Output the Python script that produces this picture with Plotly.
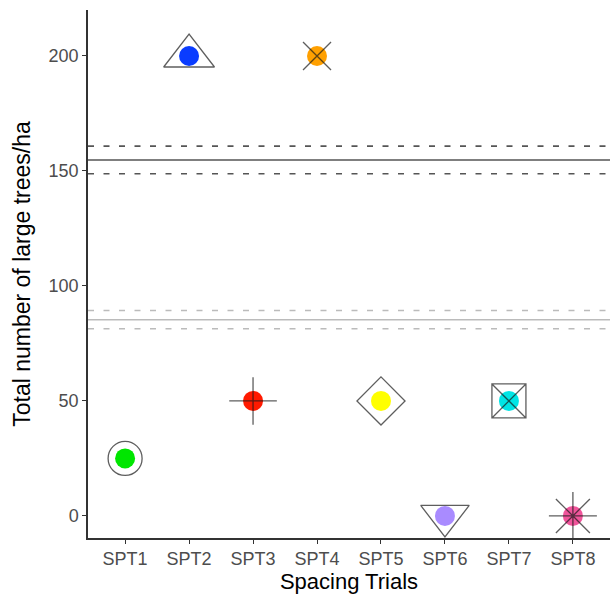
import plotly.graph_objects as go

# ---- data ----
trials = ["SPT1", "SPT2", "SPT3", "SPT4", "SPT5", "SPT6", "SPT7", "SPT8"]
large_trees = [25, 200, 50, 200, 50, 0, 50, 0]
mean_a = 154.8
ci_a = [148.8, 160.8]
mean_b = 85.3
ci_b = [81.4, 89.3]
y_ticks = [0, 50, 100, 150, 200]

# ---- styles ----
fill_colors = ["#00E600", "#0A3CFF", "#FF1A00", "#FFA000", "#FFFF00", "#A98BFF", "#00E5E5", "#F0559B"]
overlay_symbols = ["circle-open", "triangle-up-open", "cross-thin-open", "x-thin-open",
                   "diamond-open", "triangle-down-open", "square-x-open", "asterisk-open"]
overlay_sizes = [34, 44, 34, 28, 37, 42, 34, 40]

fig = go.Figure()

# reference lines
for y in ci_a:
    fig.add_hline(y=y, line=dict(color="#555555", width=1.6, dash="6px,9.5px"), layer="below")
fig.add_hline(y=mean_a, line=dict(color="#555555", width=1.6), layer="below")
for y in ci_b:
    fig.add_hline(y=y, line=dict(color="#BBBBBB", width=1.6, dash="6px,9.5px"), layer="below")
fig.add_hline(y=mean_b, line=dict(color="#BBBBBB", width=1.6), layer="below")

fig.add_trace(go.Scatter(
    x=trials, y=large_trees, mode="markers",
    marker=dict(color=fill_colors, size=20, line=dict(width=0)),
    showlegend=False, hoverinfo="skip"))

fig.add_trace(go.Scatter(
    x=trials, y=large_trees, mode="markers",
    marker=dict(symbol=overlay_symbols, size=overlay_sizes, color="#1A1A1A",
                line=dict(width=1.3, color="#1A1A1A")),
    showlegend=False, hoverinfo="skip"))

fig.update_layout(
    width=610, height=598,
    margin=dict(l=88, r=0, t=10, b=60),
    plot_bgcolor="white", paper_bgcolor="white",
    font=dict(family="Liberation Sans, Arial, sans-serif"),
    xaxis=dict(
        type="category", categoryorder="array", categoryarray=trials,
        range=[-0.58, 7.58],
        showline=True, linecolor="#333333", linewidth=1.5,
        ticks="outside", ticklen=4, tickcolor="#333333", tickwidth=1.2,
        tickfont=dict(size=18, color="#4D4D4D"),
        showgrid=False, zeroline=False,
        title=dict(text="Spacing Trials", font=dict(size=22, color="#000000"), standoff=5),
    ),
    yaxis=dict(
        range=[-9.6, 220],
        tickvals=y_ticks,
        showline=True, linecolor="#333333", linewidth=1.5,
        ticks="outside", ticklen=4, tickcolor="#333333", tickwidth=1.2,
        tickfont=dict(size=18, color="#4D4D4D"),
        showgrid=False, zeroline=False,
        title=dict(text="Total number of large trees/ha", font=dict(size=23, color="#000000"), standoff=12),
    ),
)

fig.write_html("out.html")
